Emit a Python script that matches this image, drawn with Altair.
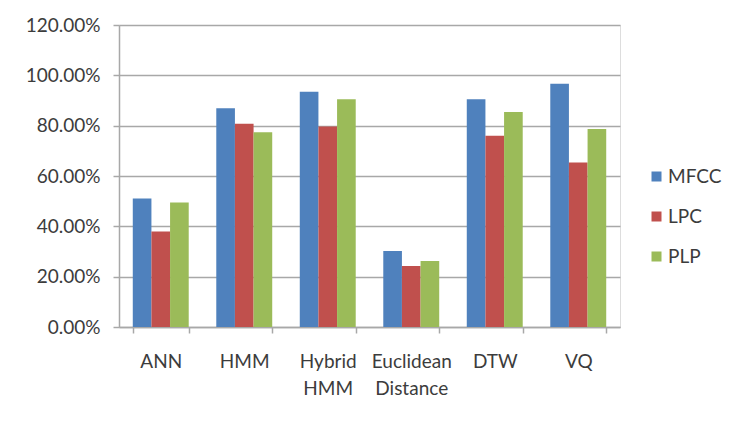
import altair as alt
import pandas as pd

categories = ["ANN", "HMM", "Hybrid HMM", "Euclidean Distance", "DTW", "VQ"]
series = ["MFCC", "LPC", "PLP"]
mfcc = [0.511, 0.869, 0.935, 0.302, 0.905, 0.967]
lpc = [0.379, 0.808, 0.797, 0.242, 0.760, 0.654]
plp = [0.495, 0.774, 0.905, 0.262, 0.854, 0.787]
colors = ["#4F81BD", "#C0504D", "#9BBB59"]
y_ticks = [0.0, 0.2, 0.4, 0.6, 0.8, 1.0, 1.2]

rows = []
for s, vals in zip(series, [mfcc, lpc, plp]):
    for c, v in zip(categories, vals):
        rows.append({"method": c, "feature": s, "value": v})
df = pd.DataFrame(rows)

FONT = "Lato"
TXT = "#3c3c3c"
GRID = "#a8a8a8"

chart = alt.Chart(df).mark_bar().encode(
    x=alt.X("method:N", sort=categories, title=None,
            scale=alt.Scale(paddingInner=0.33, paddingOuter=0.165),
            axis=alt.Axis(labelAngle=0, tickBand="extent", tickSize=6,
                          labelPadding=19, labelLineHeight=27,
                          labelExpr="split(datum.label, ' ')",
                          domainColor=GRID, tickColor=GRID, domainWidth=1.5,
                          tickWidth=1.5, labelFontSize=19, labelFont=FONT,
                          labelColor=TXT, grid=False)),
    xOffset=alt.XOffset("feature:N", sort=series,
                        scale=alt.Scale(paddingInner=0, paddingOuter=0)),
    y=alt.Y("value:Q", title=None,
            scale=alt.Scale(domain=[0, 1.2], nice=False),
            axis=alt.Axis(values=y_ticks, format=".2%", tickSize=6,
                          labelPadding=13, labelFontSize=19, labelFont=FONT,
                          labelColor=TXT, gridColor=GRID, gridWidth=1.5,
                          domainColor=GRID, tickColor=GRID, domainWidth=1.5,
                          tickWidth=1.5)),
    color=alt.Color("feature:N", sort=series,
                    scale=alt.Scale(domain=series, range=colors),
                    legend=alt.Legend(title=None, orient="none", legendX=528,
                                      legendY=142, padding=0,
                                      symbolType="square",
                                      symbolSize=100, symbolStrokeWidth=0,
                                      labelFontSize=19, labelFont=FONT,
                                      labelColor=TXT, rowPadding=20,
                                      labelOffset=2, labelLimit=200)),
).properties(
    width=501, height=302,
    autosize=alt.AutoSizeParams(type="none"),
    padding={"left": 111, "top": 17, "right": 106, "bottom": 85},
).configure_view(stroke=None).configure(background="white")

chart.save("out.html", embed_options={"renderer": "svg", "actions": False})
